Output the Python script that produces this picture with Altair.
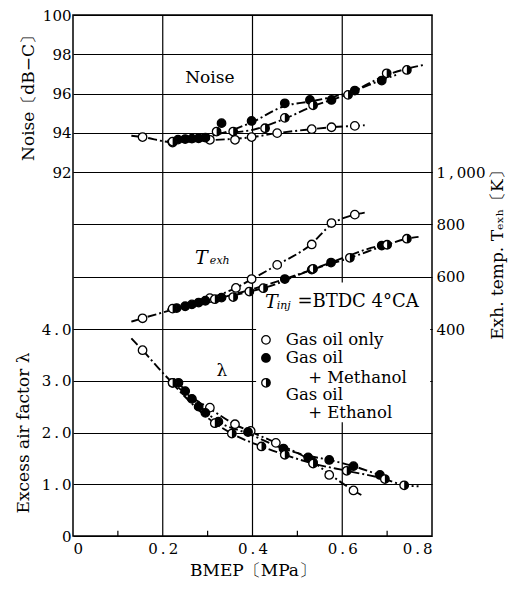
import altair as alt
import pandas as pd

FONT = "DejaVu Serif"

# ---------------- measured points: BMEP [MPa] vs value ----------------
# Noise [dB-C]
noise_gas_x = [0.155, 0.222, 0.305, 0.361, 0.398, 0.455, 0.532, 0.576, 0.628]
noise_gas_y = [93.78, 93.50, 93.64, 93.64, 93.78, 93.98, 94.18, 94.28, 94.35]
noise_met_x = [0.234, 0.250, 0.265, 0.280, 0.295, 0.331, 0.398, 0.472, 0.528, 0.576, 0.628, 0.688]
noise_met_y = [93.65, 93.68, 93.70, 93.72, 93.75, 94.49, 94.60, 95.50, 95.67, 95.67, 96.15, 96.66]
noise_eth_x = [0.222, 0.320, 0.357, 0.428, 0.472, 0.535, 0.613, 0.699, 0.744]
noise_eth_y = [93.55, 94.06, 94.06, 94.23, 94.76, 95.40, 95.93, 97.03, 97.20]

# Exhaust temperature [K]
texh_gas_x = [0.155, 0.305, 0.363, 0.398, 0.455, 0.532, 0.576, 0.628]
texh_gas_y = [441, 518, 557, 591, 645, 723, 805, 837]
texh_met_x = [0.231, 0.250, 0.265, 0.280, 0.295, 0.331, 0.472, 0.532, 0.575, 0.688]
texh_met_y = [480, 487, 494, 501, 508, 520, 591, 627, 654, 719]
texh_eth_x = [0.222, 0.316, 0.357, 0.393, 0.424, 0.535, 0.617, 0.700, 0.744]
texh_eth_y = [478, 514, 522, 543, 556, 630, 672, 722, 745]

# Excess air factor lambda
lam_gas_x = [0.155, 0.222, 0.305, 0.361, 0.396, 0.452, 0.535, 0.571, 0.625]
lam_gas_y = [3.59, 2.96, 2.48, 2.16, 2.03, 1.80, 1.42, 1.18, 0.88]
lam_met_x = [0.235, 0.250, 0.265, 0.280, 0.295, 0.324, 0.390, 0.469, 0.524, 0.571, 0.625, 0.684]
lam_met_y = [2.96, 2.80, 2.65, 2.50, 2.38, 2.21, 2.01, 1.69, 1.52, 1.47, 1.35, 1.18]
lam_eth_x = [0.222, 0.316, 0.354, 0.420, 0.472, 0.535, 0.610, 0.695, 0.738]
lam_eth_y = [2.96, 2.18, 1.98, 1.73, 1.57, 1.40, 1.26, 1.10, 0.98]

# ---------------- faired curves drawn through the points ----------------
noise_gas_cx = [0.13, 0.155, 0.222, 0.305, 0.40, 0.455, 0.532, 0.576, 0.628, 0.65]
noise_gas_cy = [93.85, 93.78, 93.52, 93.62, 93.78, 93.98, 94.18, 94.28, 94.35, 94.38]
noise_met_cx = [0.21, 0.30, 0.40, 0.47, 0.53, 0.60, 0.69, 0.72]
noise_met_cy = [93.6, 93.8, 94.55, 95.35, 95.6, 95.95, 96.7, 96.95]
noise_eth_cx = [0.21, 0.30, 0.40, 0.47, 0.535, 0.61, 0.70, 0.78]
noise_eth_cy = [93.5, 93.9, 94.15, 94.7, 95.35, 95.95, 96.95, 97.45]

texh_gas_cx = [0.13, 0.155, 0.23, 0.305, 0.363, 0.40, 0.455, 0.53, 0.576, 0.628, 0.65]
texh_gas_cy = [428, 441, 478, 518, 557, 592, 645, 723, 800, 837, 845]
texh_met_cx = [0.22, 0.331, 0.472, 0.532, 0.575, 0.688, 0.70]
texh_met_cy = [476, 520, 591, 627, 654, 719, 722]
texh_eth_cx = [0.21, 0.32, 0.393, 0.424, 0.535, 0.617, 0.70, 0.744, 0.77]
texh_eth_cy = [474, 514, 543, 556, 628, 672, 722, 745, 752]

lam_gas_cx = [0.13, 0.155, 0.222, 0.305, 0.36, 0.40, 0.452, 0.535, 0.571, 0.625, 0.645]
lam_gas_cy = [3.82, 3.59, 2.96, 2.46, 2.16, 2.0, 1.8, 1.43, 1.2, 0.88, 0.78]
lam_met_cx = [0.235, 0.324, 0.39, 0.469, 0.524, 0.571, 0.625, 0.684, 0.70]
lam_met_cy = [2.96, 2.21, 1.98, 1.69, 1.55, 1.47, 1.35, 1.18, 1.14]
lam_eth_cx = [0.22, 0.316, 0.354, 0.42, 0.472, 0.535, 0.61, 0.695, 0.738, 0.77]
lam_eth_cy = [2.96, 2.18, 1.98, 1.73, 1.57, 1.40, 1.26, 1.10, 0.98, 0.96]

# axis ticks
bmep_ticks = [0, 0.2, 0.4, 0.6, 0.8]
bmep_grid = [0.2, 0.4, 0.6]
bmep_minor = [0.1, 0.3, 0.5, 0.7]
noise_ticks = [92, 94, 96, 98, 100]
texh_ticks = [400, 600, 800, 1000]
lam_ticks = [0, 1, 2, 3, 4]

HALF = "M0,-1A1,1 0 0 1 0,1Z"   # right half of a unit circle
MSIZE = 72


def df(xs, ys):
    return pd.DataFrame({"bmep": xs, "v": ys})


def curves(parts):
    frames = []
    for name, xs, ys in parts:
        d = df(xs, ys)
        d["fuel"] = name
        frames.append(d)
    return pd.concat(frames, ignore_index=True)


X = alt.X(
    "bmep:Q",
    scale=alt.Scale(domain=[0, 0.8], nice=False, zero=False),
    axis=alt.Axis(
        values=bmep_ticks, grid=False, ticks=False, domain=False,
        labelExpr="datum.value == 0 ? '0' : replace(format(datum.value, '.1f'), '.', '\u2009.\u2009')",
        title="BMEP〔MPa〕", labelPadding=5, titlePadding=6,
    ),
)


def markers(pts_gas, pts_met, pts_eth, Y):
    open_c = alt.Chart(pts_gas).mark_point(
        shape="circle", filled=True, fill="white", stroke="black", strokeWidth=1.3, size=MSIZE, opacity=1
    ).encode(x=X, y=Y)
    full_c = alt.Chart(pts_met).mark_point(
        shape="circle", filled=True, fill="black", stroke="black", strokeWidth=1.3, size=MSIZE, opacity=1
    ).encode(x=X, y=Y)
    half_bg = alt.Chart(pts_eth).mark_point(
        shape="circle", filled=True, fill="white", stroke="black", strokeWidth=1.3, size=MSIZE, opacity=1
    ).encode(x=X, y=Y)
    half_fg = alt.Chart(pts_eth).mark_point(
        shape=HALF, filled=True, fill="black", strokeWidth=0, size=MSIZE, opacity=1
    ).encode(x=X, y=Y)
    return [open_c, full_c, half_bg, half_fg]


def line_layer(cdf, Y):
    return alt.Chart(cdf).mark_line(
        color="black", strokeWidth=1.9, strokeDash=[9, 3, 2, 3], interpolate="monotone"
    ).encode(x=X, y=Y, detail="fuel:N")


def text_layer(data, Y, size=17, italic=False, align="left", dy=0):
    return alt.Chart(data).mark_text(
        font=FONT, fontSize=size, fontStyle="italic" if italic else "normal",
        align=align, baseline="middle", color="black", dy=dy
    ).encode(x=X, y=Y, text="t:N")


def lab(xs, ys, texts):
    d = df(xs, ys)
    d["t"] = texts
    return d


# ---------------- Noise panel ----------------
Y_noise = alt.Y(
    "v:Q",
    scale=alt.Scale(domain=[92, 100], range=[157, 0], nice=False, zero=False),
    axis=alt.Axis(
        orient="left", values=noise_ticks, grid=True, ticks=False, domain=False,
        title="Noise〔dB−C〕", labelPadding=2, titlePadding=5,
    ),
)
noise_curves = curves([
    ("gas", noise_gas_cx, noise_gas_cy),
    ("met", noise_met_cx, noise_met_cy),
    ("eth", noise_eth_cx, noise_eth_cy),
])
noise_panel = alt.layer(
    line_layer(noise_curves, Y_noise),
    *markers(df(noise_gas_x, noise_gas_y), df(noise_met_x, noise_met_y), df(noise_eth_x, noise_eth_y), Y_noise),
    text_layer(lab([0.305], [96.8], ["Noise"]), Y_noise, size=17, align="center"),
)

# ---------------- Exhaust temperature panel ----------------
Y_texh = alt.Y(
    "v:Q",
    scale=alt.Scale(domain=[400, 1000], range=[314, 157], nice=False, zero=False),
    axis=alt.Axis(
        orient="right", values=texh_ticks, grid=True, ticks=False, domain=False,
        labelExpr="replace(format(datum.value, ','), ',', '\u2009,\u2009')",
        title="Exh. temp. Tₑₓₕ〔K〕", titleAngle=270,
        labelPadding=4, titlePadding=22,
    ),
)
texh_curves = curves([
    ("gas", texh_gas_cx, texh_gas_cy),
    ("met", texh_met_cx, texh_met_cy),
    ("eth", texh_eth_cx, texh_eth_cy),
])
texh_panel = alt.layer(
    line_layer(texh_curves, Y_texh),
    *markers(df(texh_gas_x, texh_gas_y), df(texh_met_x, texh_met_y), df(texh_eth_x, texh_eth_y), Y_texh),
    text_layer(lab([0.272], [673], ["T"]), Y_texh, size=19, italic=True),
    text_layer(lab([0.305], [660], ["exh"]), Y_texh, size=11, italic=True),
)

# ---------------- Excess air factor panel ----------------
Y_lam = alt.Y(
    "v:Q",
    scale=alt.Scale(domain=[0, 4], range=[521, 314], nice=False, zero=False),
    axis=alt.Axis(
        orient="left", values=lam_ticks, grid=True, ticks=False, domain=False,
        labelExpr="datum.value == 0 ? '0' : replace(format(datum.value, '.1f'), '.', '\u2009.\u2009')",
        title="Excess air factor λ", labelPadding=2, titlePadding=9,
    ),
)
lam_curves = curves([
    ("gas", lam_gas_cx, lam_gas_cy),
    ("met", lam_met_cx, lam_met_cy),
    ("eth", lam_eth_cx, lam_eth_cy),
])

# vertical BMEP grid lines over the whole plot height
x_grid = alt.Chart(pd.DataFrame({"bmep": bmep_grid})).mark_rule(
    color="black", strokeWidth=1.2
).encode(x=X, y=alt.value(0), y2=alt.value("height"))

# key box (white, masks the grid behind it)
key_box = alt.Chart(pd.DataFrame({"bmep": [0.408], "b2": [0.796], "v": [2.2], "v2": [4.9]})).mark_rect(
    fill="white"
).encode(x=X, x2="b2:Q", y=Y_lam, y2="v2:Q")

minor_ticks = alt.Chart(pd.DataFrame({"bmep": bmep_minor, "v": [0] * 4, "v2": [0.1] * 4})).mark_rule(
    color="black", strokeWidth=1.2
).encode(x=X, y=Y_lam, y2="v2:Q")

key_marks = markers(df([0.43], [3.79]), df([0.43], [3.44]), df([0.43], [2.96]), Y_lam)

lam_panel = alt.layer(
    x_grid,
    key_box,
    minor_ticks,
    line_layer(lam_curves, Y_lam),
    *markers(df(lam_gas_x, lam_gas_y), df(lam_met_x, lam_met_y), df(lam_eth_x, lam_eth_y), Y_lam),
    text_layer(lab([0.332], [3.19], ["λ"]), Y_lam, size=17, align="center"),
    *key_marks,
    text_layer(lab([0.428], [4.52], ["T"]), Y_lam, size=19, italic=True),
    text_layer(lab([0.454], [4.45], ["inj"]), Y_lam, size=11, italic=True),
    text_layer(lab([0.500], [4.52], ["=BTDC 4°CA"]), Y_lam, size=18),
    text_layer(lab([0.474, 0.474, 0.524, 0.474, 0.524], [3.79, 3.44, 3.05, 2.72, 2.38],
                   ["Gas oil only", "Gas oil", "+ Methanol", "Gas oil", "+ Ethanol"]), Y_lam, size=16.5),
)

chart = alt.layer(lam_panel, noise_panel, texh_panel).resolve_scale(
    y="independent"
).resolve_axis(
    y="independent"
).properties(
    width=359, height=521,
    autosize=alt.AutoSizeParams(type="none"),
    padding={"left": 73, "top": 15, "right": 84, "bottom": 56},
    background="white",
).configure_view(
    stroke="black", strokeWidth=1.5
).configure_axis(
    labelFont=FONT, titleFont=FONT, labelFontSize=15, titleFontSize=17,
    titleFontWeight="normal", labelColor="black", titleColor="black",
    gridColor="black", gridWidth=1.2, gridOpacity=1,
)

chart.save("out.html", embed_options={"renderer": "svg", "actions": False})
